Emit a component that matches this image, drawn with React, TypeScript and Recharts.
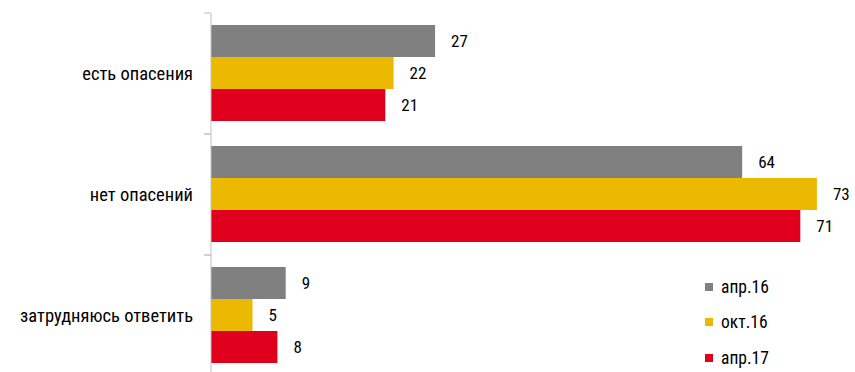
import React from "react";
import { BarChart, Bar, XAxis, YAxis, LabelList } from "recharts";

const categories = ["есть опасения", "нет опасений", "затрудняюсь ответить"];
const seriesNames = ["апр.16", "окт.16", "апр.17"];
const apr16 = [27, 64, 9];
const oct16 = [22, 73, 5];
const apr17 = [21, 71, 8];
const colors = ["#808080", "#EBB900", "#E0001E"];

const data = categories.map((c, i) => ({ name: c, a: apr16[i], b: oct16[i], c: apr17[i] }));

const FONT = "'Liberation Sans Narrow', 'Roboto Condensed', Roboto, sans-serif";
const W = 880;
const H = 380;
const M = { top: 13, right: 5, bottom: 4, left: 0 };
const BAND = (H - M.top - M.bottom) / categories.length;

const CatTick = (props: any) => {
  const { x, y, payload } = props;
  return (
    <g>
      <line x1={x - 7} x2={x} y1={y - BAND / 2} y2={y - BAND / 2} stroke="#BFBFBF" />
      <line x1={x - 7} x2={x} y1={y + BAND / 2} y2={y + BAND / 2} stroke="#BFBFBF" />
      <text x={x - 18} y={y} dy={6} textAnchor="end" fontSize={18.5} fill="#000" fontFamily={FONT}>
        {payload.value}
      </text>
    </g>
  );
};

export default function App() {
  return (
    <div style={{ position: "fixed", left: 0, top: 0, width: 855, height: 372, overflow: "hidden", background: "#fff" }}>
      <BarChart
        width={W}
        height={H}
        data={data}
        layout="vertical"
        margin={M}
        barCategoryGap={12}
        barGap={0}
        style={{ overflow: "visible" }}
      >
        <XAxis type="number" domain={[0, 80]} hide />
        <YAxis
          type="category"
          dataKey="name"
          width={211}
          axisLine={{ stroke: "#BFBFBF" }}
          tickLine={false}
          tickSize={0}
          tickMargin={0}
          tick={<CatTick />}
          interval={0}
        />
        {["a", "b", "c"].map((k, i) => (
          <Bar key={k} dataKey={k} name={seriesNames[i]} fill={colors[i]} isAnimationActive={false}>
            <LabelList
              dataKey={k}
              position="right"
              offset={16}
              style={{ fontFamily: FONT, fontSize: 17, fill: "#000" }}
            />
          </Bar>
        ))}
      </BarChart>
      <div style={{ position: "absolute", left: 705, top: 269, fontFamily: FONT, fontSize: 17.5, color: "#000" }}>
        {seriesNames.map((n, i) => (
          <div key={n} style={{ display: "flex", alignItems: "center", height: 35.5 }}>
            <span style={{ width: 8, height: 8, background: colors[i], display: "inline-block", marginRight: 8 }} />
            <span>{n}</span>
          </div>
        ))}
      </div>
    </div>
  );
}
